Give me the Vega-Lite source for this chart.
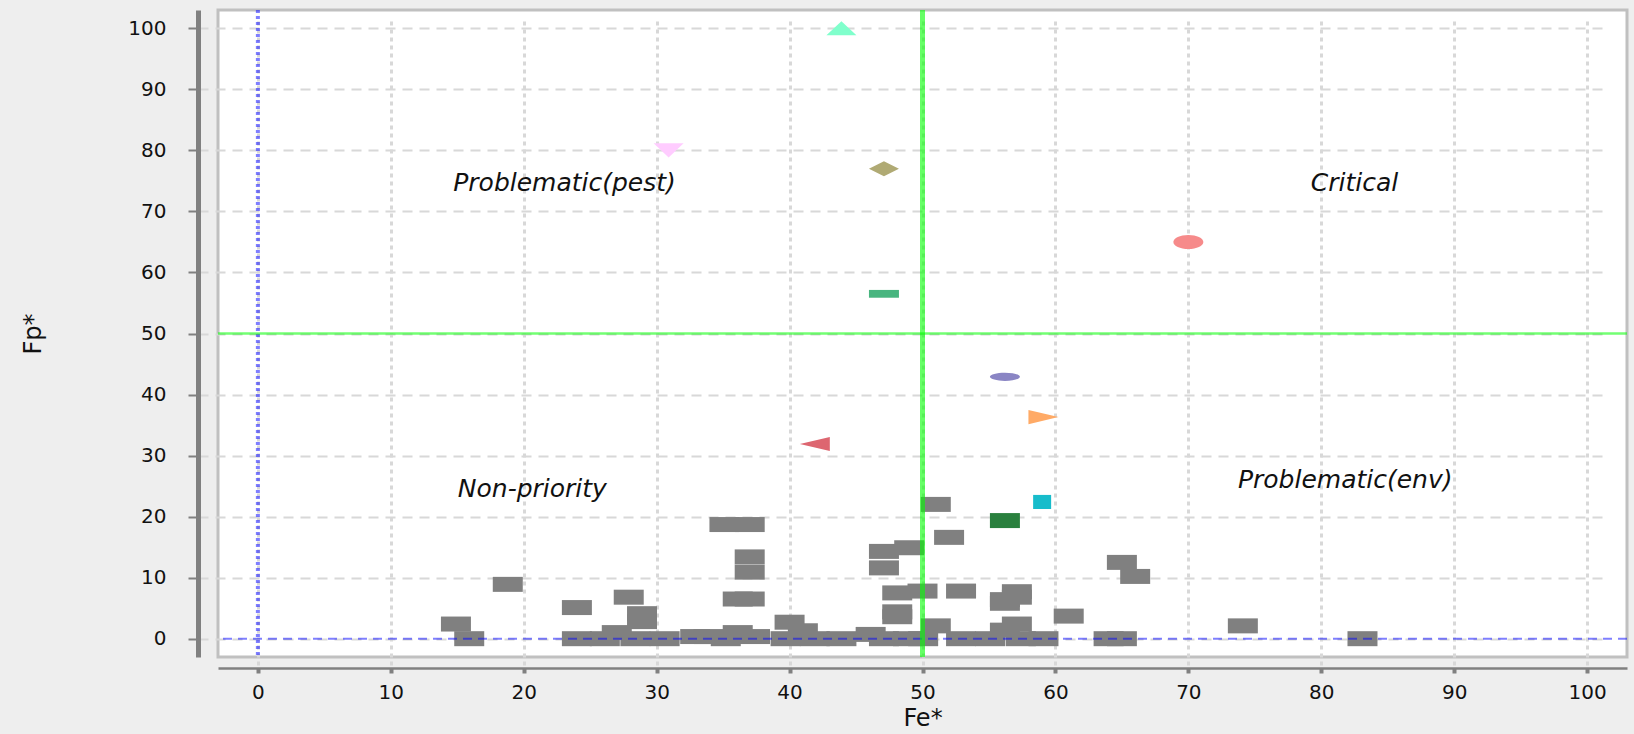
{
  "$schema": "https://vega.github.io/schema/vega-lite/v6.json",
  "autosize": "none",
  "width": 1409,
  "height": 647,
  "padding": {"left": 218, "top": 10, "right": 7, "bottom": 77},
  "background": "#eeeeee",
  "view": {"stroke": "#c0c0c0", "strokeWidth": 3, "fill": "white"},
  "config": {
    "font": "DejaVu Sans",
    "axisX": {
      "offset": 11, "domainColor": "#808080", "domainWidth": 2.5,
      "tickColor": "#808080", "tickSize": 5, "tickWidth": 4,
      "labelFont": "DejaVu Sans", "labelFontSize": 20, "labelColor": "#111111", "labelPadding": 9,
      "titleFont": "DejaVu Sans", "titleFontSize": 24, "titleFontWeight": "normal", "titleColor": "#111111", "titlePadding": 4,
      "grid": true, "gridColor": "#d8d8d8", "gridDash": [4, 4], "gridWidth": 3
    },
    "axisY": {
      "offset": 20, "domainColor": "#808080", "domainWidth": 5,
      "tickColor": "#808080", "tickSize": 10, "tickWidth": 2,
      "labelFont": "DejaVu Sans", "labelFontSize": 20, "labelColor": "#111111", "labelPadding": 22,
      "titleFont": "DejaVu Sans", "titleFontSize": 24, "titleFontWeight": "normal", "titleColor": "#111111", "titlePadding": 82,
      "grid": true, "gridColor": "#d8d8d8", "gridDash": [10, 7], "gridWidth": 2
    }
  },
  "datasets": {
    "pts": [
      {"x": 14.9, "y": 2.4, "g": "other"},
      {"x": 15.9, "y": 0, "g": "other"},
      {"x": 18.8, "y": 8.9, "g": "other"},
      {"x": 24.0, "y": 5.1, "g": "other"},
      {"x": 27.9, "y": 6.8, "g": "other"},
      {"x": 28.9, "y": 4.1, "g": "other"},
      {"x": 28.9, "y": 2.8, "g": "other"},
      {"x": 27.0, "y": 1.0, "g": "other"},
      {"x": 24.0, "y": 0, "g": "other"},
      {"x": 26.1, "y": 0, "g": "other"},
      {"x": 28.4, "y": 0, "g": "other"},
      {"x": 30.6, "y": 0, "g": "other"},
      {"x": 32.9, "y": 0.35, "g": "other"},
      {"x": 33.9, "y": 0.35, "g": "other"},
      {"x": 35.2, "y": 0, "g": "other"},
      {"x": 37.4, "y": 0.35, "g": "other"},
      {"x": 39.7, "y": 0, "g": "other"},
      {"x": 41.9, "y": 0, "g": "other"},
      {"x": 43.9, "y": 0, "g": "other"},
      {"x": 35.1, "y": 18.7, "g": "other"},
      {"x": 37.0, "y": 18.7, "g": "other"},
      {"x": 37.0, "y": 13.4, "g": "other"},
      {"x": 37.0, "y": 10.9, "g": "other"},
      {"x": 36.1, "y": 6.5, "g": "other"},
      {"x": 37.0, "y": 6.5, "g": "other"},
      {"x": 36.1, "y": 1.0, "g": "other"},
      {"x": 40.0, "y": 2.7, "g": "other"},
      {"x": 41.0, "y": 1.3, "g": "other"},
      {"x": 46.1, "y": 0.7, "g": "other"},
      {"x": 47.1, "y": 0, "g": "other"},
      {"x": 48.9, "y": 0, "g": "other"},
      {"x": 50.05, "y": 0, "g": "other"},
      {"x": 52.9, "y": 0, "g": "other"},
      {"x": 55.1, "y": 0, "g": "other"},
      {"x": 57.4, "y": 0, "g": "other"},
      {"x": 59.1, "y": 0, "g": "other"},
      {"x": 47.1, "y": 14.3, "g": "other"},
      {"x": 49.0, "y": 14.9, "g": "other"},
      {"x": 47.1, "y": 11.6, "g": "other"},
      {"x": 48.1, "y": 7.5, "g": "other"},
      {"x": 50.0, "y": 7.8, "g": "other"},
      {"x": 48.1, "y": 4.4, "g": "other"},
      {"x": 48.1, "y": 3.6, "g": "other"},
      {"x": 51.0, "y": 22.0, "g": "other"},
      {"x": 52.0, "y": 16.6, "g": "other"},
      {"x": 52.9, "y": 7.8, "g": "other"},
      {"x": 57.1, "y": 7.7, "g": "other"},
      {"x": 57.1, "y": 6.8, "g": "other"},
      {"x": 56.2, "y": 6.4, "g": "other"},
      {"x": 56.2, "y": 5.8, "g": "other"},
      {"x": 51.0, "y": 2.1, "g": "other"},
      {"x": 57.1, "y": 2.4, "g": "other"},
      {"x": 56.2, "y": 1.4, "g": "other"},
      {"x": 61.0, "y": 3.7, "g": "other"},
      {"x": 65.0, "y": 12.5, "g": "other"},
      {"x": 66.0, "y": 10.2, "g": "other"},
      {"x": 74.1, "y": 2.1, "g": "other"},
      {"x": 64.0, "y": 0, "g": "other"},
      {"x": 65.0, "y": 0, "g": "other"},
      {"x": 83.1, "y": 0, "g": "other"},
      {"x": 70.0, "y": 65.0, "g": "s1"},
      {"x": 47.1, "y": 56.5, "g": "s2"},
      {"x": 47.1, "y": 77.0, "g": "s3"},
      {"x": 43.9, "y": 100.0, "g": "s4"},
      {"x": 30.9, "y": 80.0, "g": "s5"},
      {"x": 56.2, "y": 42.9, "g": "s6"},
      {"x": 59.1, "y": 36.3, "g": "s7"},
      {"x": 41.9, "y": 31.9, "g": "s8"},
      {"x": 59.0, "y": 22.4, "g": "s9"},
      {"x": 56.2, "y": 19.35, "g": "s10"}
    ],
    "labels": [
      {"x": 23.07, "y": 74.6, "t": "Problematic(pest)"},
      {"x": 82.5, "y": 74.6, "t": "Critical"},
      {"x": 20.65, "y": 24.46, "t": "Non-priority"},
      {"x": 81.8, "y": 26.0, "t": "Problematic(env)"}
    ]
  },
  "layer": [
    {
      "data": {"name": "pts"},
      "mark": {"type": "point", "filled": true, "size": 900, "opacity": 1, "strokeWidth": 0},
      "encoding": {
        "x": {"field": "x", "type": "quantitative", "title": "Fe*", "scale": {"domain": [-3, 103], "nice": false, "zero": false}, "axis": {"values": [0, 10, 20, 30, 40, 50, 60, 70, 80, 90, 100]}},
        "y": {"field": "y", "type": "quantitative", "title": "Fp*", "scale": {"domain": [-3, 103], "nice": false, "zero": false}, "axis": {"values": [0, 10, 20, 30, 40, 50, 60, 70, 80, 90, 100]}},
        "color": {
          "field": "g", "type": "nominal", "legend": null,
          "scale": {
            "domain": ["other", "s1", "s2", "s3", "s4", "s5", "s6", "s7", "s8", "s9", "s10"],
            "range": ["#808080", "#f68a8a", "#48b57f", "#b0aa74", "#80ffcc", "#ffccff", "#8a85c4", "#ffaa66", "#dd6670", "#17bccb", "#2a803e"]
          }
        },
        "shape": {
          "field": "g", "type": "nominal", "legend": null,
          "scale": {
            "domain": ["other", "s1", "s2", "s3", "s4", "s5", "s6", "s7", "s8", "s9", "s10"],
            "range": [
              "M-1,-0.5H1V0.5H-1Z",
              "M-1,0A1,0.47 0 1,0 1,0A1,0.47 0 1,0 -1,0Z",
              "M-1,-0.26H1V0.26H-1Z",
              "M0,-0.5L1,0L0,0.5L-1,0Z",
              "M0,-0.47L1,0.47H-1Z",
              "M-1,-0.47H1L0,0.47Z",
              "M-1,0A1,0.27 0 1,0 1,0A1,0.27 0 1,0 -1,0Z",
              "M-1,-0.47L1,0L-1,0.47Z",
              "M1,-0.47L-1,0L1,0.47Z",
              "M-0.6,-0.47H0.6V0.47H-0.6Z",
              "M-1,-0.5H1V0.5H-1Z"
            ]
          }
        }
      }
    },
    {
      "data": {"values": [{"x": 0}]},
      "mark": {"type": "rule", "color": "#0000ff", "opacity": 0.5, "strokeWidth": 4, "strokeDash": [3, 3]},
      "encoding": {"x": {"field": "x", "type": "quantitative", "title": "Fe*", "scale": {"domain": [-3, 103], "nice": false, "zero": false}}}
    },
    {
      "data": {"values": [{"y": 0}]},
      "mark": {"type": "rule", "color": "#0000ff", "opacity": 0.5, "strokeWidth": 2, "strokeDash": [9, 6]},
      "encoding": {"y": {"field": "y", "type": "quantitative", "title": "Fp*", "scale": {"domain": [-3, 103], "nice": false, "zero": false}}}
    },
    {
      "data": {"values": [{"x": 50}]},
      "mark": {"type": "rule", "color": "#00ff00", "opacity": 0.6, "strokeWidth": 5},
      "encoding": {"x": {"field": "x", "type": "quantitative", "title": "Fe*", "scale": {"domain": [-3, 103], "nice": false, "zero": false}}}
    },
    {
      "data": {"values": [{"y": 50}]},
      "mark": {"type": "rule", "color": "#00ff00", "opacity": 0.55, "strokeWidth": 2.5},
      "encoding": {"y": {"field": "y", "type": "quantitative", "title": "Fp*", "scale": {"domain": [-3, 103], "nice": false, "zero": false}}}
    },
    {
      "data": {"name": "labels"},
      "mark": {"type": "text", "font": "DejaVu Sans", "fontStyle": "italic", "fontSize": 25, "color": "#111111", "align": "center", "baseline": "middle"},
      "encoding": {
        "x": {"field": "x", "type": "quantitative", "title": "Fe*", "scale": {"domain": [-3, 103], "nice": false, "zero": false}},
        "y": {"field": "y", "type": "quantitative", "title": "Fp*", "scale": {"domain": [-3, 103], "nice": false, "zero": false}},
        "text": {"field": "t", "type": "nominal"}
      }
    }
  ]
}
